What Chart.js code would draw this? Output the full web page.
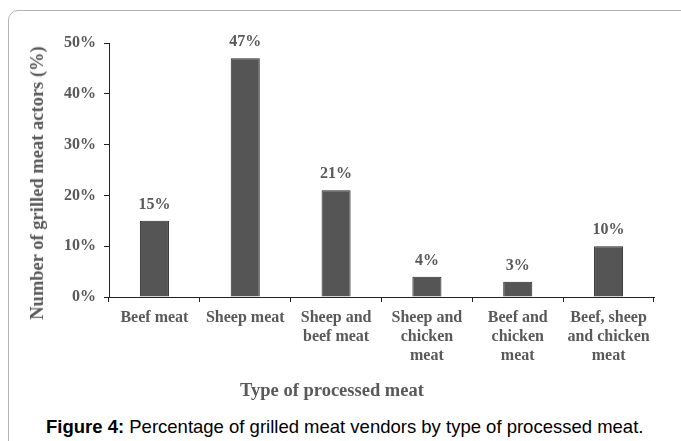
<!DOCTYPE html>
<html>
<head>
<meta charset="utf-8">
<script src="https://cdn.jsdelivr.net/npm/chart.js@4/dist/chart.umd.min.js"></script>
<style>
    body { margin: 0; background: #fff; }
    #wrap { position: relative; width: 681px; height: 441px; overflow: hidden; }
    #frame {
        position: absolute; left: 8px; top: 10px; width: 700px; height: 500px;
        border: 1px solid #b4b4b4; border-radius: 10px;
    }
    #chart { position: absolute; left: 0; top: 0; }
    .axis-title {
        position: absolute; white-space: nowrap; color: #595959;
        font: bold 18.5px "Liberation Serif", "Times New Roman", serif; line-height: 22px;
    }
    #xTitle { left: 332px; top: 379px; transform: translateX(-50%); }
    #yTitle { left: 37px; top: 183px; transform: translate(-50%, -50%) rotate(-90deg); }
    #caption {
        position: absolute; left: 46px; top: 416px; line-height: 22px;
        font: 18.5px "Liberation Sans", Arial, sans-serif; color: #000; white-space: nowrap;
    }
</style>
</head>
<body>
<div id="wrap">
    <div id="frame"></div>
    <canvas id="chart" width="681" height="400"></canvas>
    <div class="axis-title" id="xTitle">Type of processed meat</div>
    <div class="axis-title" id="yTitle">Number of grilled meat actors (%)</div>
    <div id="caption"><b>Figure 4:</b> Percentage of grilled meat vendors by type of processed meat.</div>
</div>
<script>
const categories = [
    ["Beef meat"],
    ["Sheep meat"],
    ["Sheep and", "beef meat"],
    ["Sheep and", "chicken", "meat"],
    ["Beef and", "chicken", "meat"],
    ["Beef, sheep", "and chicken", "meat"]
];
const shares = [15, 47, 21, 4, 3, 10];
const yTicks = [0, 10, 20, 30, 40, 50];

const serif = '"Liberation Serif", "Times New Roman", serif';
const textGray = "#595959";

// value labels above each bar
const barLabels = {
    id: "barLabels",
    afterDatasetsDraw(chart) {
        const ctx = chart.ctx;
        const meta = chart.getDatasetMeta(0);
        ctx.save();
        ctx.font = "bold 16px " + serif;
        ctx.fillStyle = textGray;
        ctx.textAlign = "center";
        ctx.textBaseline = "middle";
        meta.data.forEach((bar, i) => {
            ctx.fillText(shares[i] + "%", bar.x, bar.y - 16);
        });
        ctx.restore();
    }
};

new Chart(document.getElementById("chart"), {
    type: "bar",
    data: {
        labels: categories,
        datasets: [{
            data: shares,
            backgroundColor: "#555555",
            borderColor: "#2a2a2a",
            borderWidth: 1,
            barPercentage: 0.32,
            categoryPercentage: 1
        }]
    },
    options: {
        responsive: false,
        animation: false,
        layout: { padding: { left: 10, top: 43, right: 27, bottom: 0 } },
        plugins: {
            legend: { display: false },
            tooltip: { enabled: false }
        },
        scales: {
            x: {
                afterFit: s => { s.height = 103; },
                grid: { drawOnChartArea: false, tickLength: 5, color: "#222" },
                border: { color: "#222" },
                ticks: {
                    padding: 6,
                    color: textGray,
                    font: { family: serif, size: 16, weight: "bold", lineHeight: 1.19 },
                    maxRotation: 0
                }
            },
            y: {
                min: 0,
                max: 50,
                afterFit: s => { s.width = 99; },
                afterBuildTicks: s => { s.ticks = yTicks.map(v => ({ value: v })); },
                grid: { drawOnChartArea: false, tickLength: 5, color: "#222" },
                border: { color: "#222" },
                ticks: {
                    padding: 8,
                    color: textGray,
                    font: { family: serif, size: 16, weight: "bold" },
                    callback: v => v + "%"
                }
            }
        }
    },
    plugins: [barLabels]
});
</script>
</body>
</html>
